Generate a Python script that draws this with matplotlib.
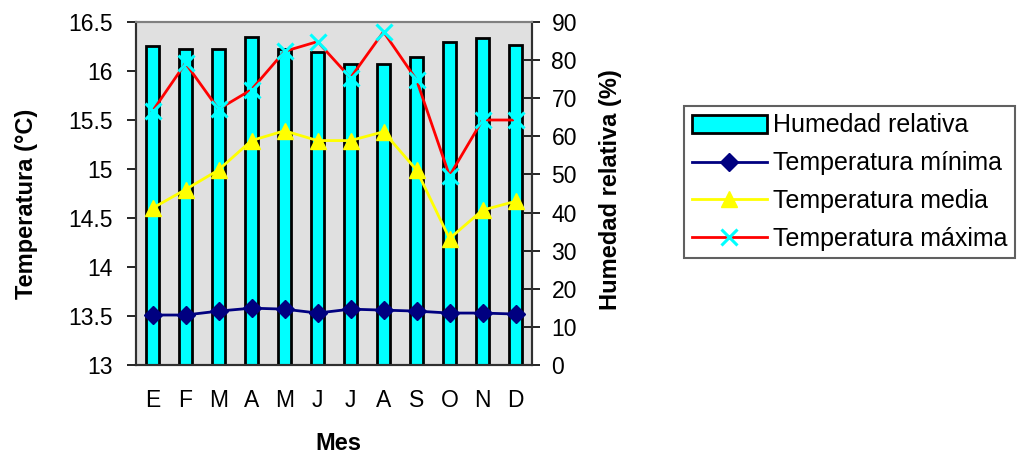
import matplotlib
matplotlib.use('Agg')
import matplotlib.pyplot as plt
from matplotlib.ticker import FormatStrFormatter, MultipleLocator

plt.rcParams['font.family'] = ['Liberation Sans', 'DejaVu Sans']

# datos mensuales
meses = ['E', 'F', 'M', 'A', 'M', 'J', 'J', 'A', 'S', 'O', 'N', 'D']
humedad = [83.8, 82.8, 82.8, 86.0, 82.9, 82.0, 79.0, 79.0, 80.8, 84.8, 85.9, 83.9]
t_min = [13.51, 13.51, 13.55, 13.58, 13.57, 13.53, 13.57, 13.56, 13.55, 13.53, 13.53, 13.52]
t_media = [14.60, 14.79, 14.99, 15.29, 15.39, 15.29, 15.29, 15.38, 14.99, 14.29, 14.58, 14.67]
t_max = [15.59, 16.08, 15.61, 15.81, 16.20, 16.30, 15.93, 16.40, 15.91, 14.93, 15.50, 15.50]

W, H = 1036, 453
fig = plt.figure(figsize=(W / 100, H / 100), dpi=100)

# eje de humedad (barras, escala a la derecha) y eje de temperatura encima
ax_h = fig.add_axes([136 / W, 1 - 365 / H, (532 - 136) / W, (365 - 22) / H])
ax_t = ax_h.twinx()
ax_h.set_facecolor('#E0E0E0')

x = [i + 0.5 for i in range(len(meses))]
barras = ax_h.bar(x, humedad, width=0.42, color='#00FFFF', edgecolor='black',
                  linewidth=2.0, label='Humedad relativa', zorder=2)
ax_h.set_xlim(0, 12)
ax_h.set_ylim(0, 90)
ax_h.yaxis.set_major_locator(MultipleLocator(10))
ax_h.set_xticks(x)
ax_h.set_xticklabels(meses)
ax_h.tick_params(axis='x', length=0, pad=17, labelsize=16.5)

ax_t.set_ylim(13, 16.5)
ax_t.yaxis.set_major_locator(MultipleLocator(0.5))
ax_t.yaxis.set_major_formatter(FormatStrFormatter('%g'))

# humedad a la derecha, temperatura a la izquierda
ax_h.yaxis.tick_right()
ax_t.yaxis.tick_left()
ax_h.tick_params(axis='y', which='both', left=False, labelleft=False,
                 right=True, labelright=True, direction='inout', length=12,
                 width=1.2, pad=8, labelsize=16.5)
ax_t.tick_params(axis='y', which='both', right=False, labelright=False,
                 left=True, labelleft=True, direction='out', length=6.5,
                 width=1.2, pad=10.5, labelsize=16.5)

l_min, = ax_t.plot(x, t_min, color='#000080', lw=2.0, marker='D', ms=9,
                   label='Temperatura mínima')
l_med, = ax_t.plot(x, t_media, color='#FFFF00', lw=2.0, marker='^', ms=12,
                   label='Temperatura media')
l_max, = ax_t.plot(x, t_max, color='#FF0000', lw=2.0, marker='x', ms=12,
                   mec='#00FFFF', mew=2.2, label='Temperatura máxima')

for a in (ax_h, ax_t):
    for s in ('left', 'right', 'bottom'):
        a.spines[s].set_color('#303030')
        a.spines[s].set_linewidth(1.5)
    a.spines['top'].set_color('#808080')
    a.spines['top'].set_linewidth(1.5)

# titulos de ejes
fig.text(27 / W, 1 - 204 / H, 'Temperatura (°C)', rotation=90, ha='center',
         va='center', fontsize=17, fontweight='bold')
fig.text(610 / W, 1 - 190 / H, 'Humedad relativa (%)', rotation=90, ha='center',
         va='center', fontsize=17, fontweight='bold')
fig.text(338 / W, 1 - 443 / H, 'Mes', ha='center', va='center',
         fontsize=17, fontweight='bold')

leg = fig.legend([barras, l_min, l_med, l_max],
                 ['Humedad relativa', 'Temperatura mínima', 'Temperatura media',
                  'Temperatura máxima'],
                 loc='upper left', bbox_to_anchor=(684 / W, 1 - 106 / H),
                 borderaxespad=0, fontsize=18, handlelength=3.0,
                 handletextpad=0.25, labelspacing=0.55, borderpad=0.3,
                 fancybox=False, framealpha=1, edgecolor='#606060')
leg.get_frame().set_linewidth(1.5)

plt.savefig('out.png', dpi=100, facecolor='white')
plt.close()
